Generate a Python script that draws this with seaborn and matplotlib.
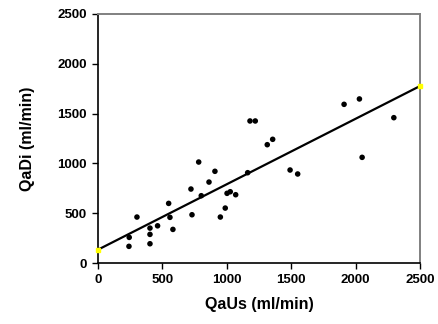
# QaDi vs QaUs scatter with fitted line
import pandas as pd
import seaborn as sns
import matplotlib.pyplot as plt

qaus = [243, 241, 303, 404, 404, 404, 463, 549, 559, 582, 722, 730, 782, 802,
        862, 908, 950, 988, 1002, 1027, 1069, 1162, 1180, 1221, 1314, 1356,
        1491, 1550, 1910, 2029, 2050, 2296]
qadi = [258, 168, 462, 351, 288, 194, 374, 599, 459, 338, 743, 485, 1014, 676,
        813, 921, 462, 552, 700, 716, 686, 907, 1426, 1426, 1188, 1242,
        934, 894, 1593, 1647, 1061, 1459]
fit_x = [0, 2500]
fit_y = [134, 1777]

df = pd.DataFrame({'QaUs': qaus, 'QaDi': qadi})
fit = pd.DataFrame({'x': fit_x, 'y': fit_y})

sns.set_style('white')
plt.rcParams['font.family'] = ['Liberation Sans', 'DejaVu Sans']
plt.rcParams['text.color'] = 'black'
plt.rcParams['axes.labelcolor'] = 'black'
plt.rcParams['xtick.color'] = 'black'
plt.rcParams['ytick.color'] = 'black'

fig = plt.figure(figsize=(4.39, 3.24), dpi=100)
ax = fig.add_axes([0.223, 0.188, 0.734, 0.769])

sns.lineplot(data=fit, x='x', y='y', color='black', linewidth=1.6, ax=ax, zorder=2)
ax.plot(fit_x, fit_y, linestyle='none', marker='s', markersize=2.2,
        color='yellow', zorder=4, clip_on=False)
sns.scatterplot(data=df, x='QaUs', y='QaDi', color='black', s=16,
                edgecolor='none', ax=ax, zorder=3)

ax.set_xlim(0, 2500)
ax.set_ylim(0, 2500)
ax.set_xticks(range(0, 2501, 500))
ax.set_yticks(range(0, 2501, 500))
ax.tick_params(axis='both', direction='out', length=4, width=1, color='black',
               labelsize=9.5, pad=4, left=True, bottom=True)
for lab in ax.get_xticklabels() + ax.get_yticklabels():
    lab.set_fontweight('bold')

ax.set_xlabel('QaUs (ml/min)', fontsize=11.5, fontweight='bold', labelpad=8)
ax.set_ylabel('QaDi (ml/min)', fontsize=11.5, fontweight='bold', labelpad=16)

for side in ['left', 'bottom']:
    ax.spines[side].set_color('black')
    ax.spines[side].set_linewidth(1.2)
for side in ['top', 'right']:
    ax.spines[side].set_color('#808080')
    ax.spines[side].set_linewidth(1.4)

fig.savefig('out.png', dpi=100)
